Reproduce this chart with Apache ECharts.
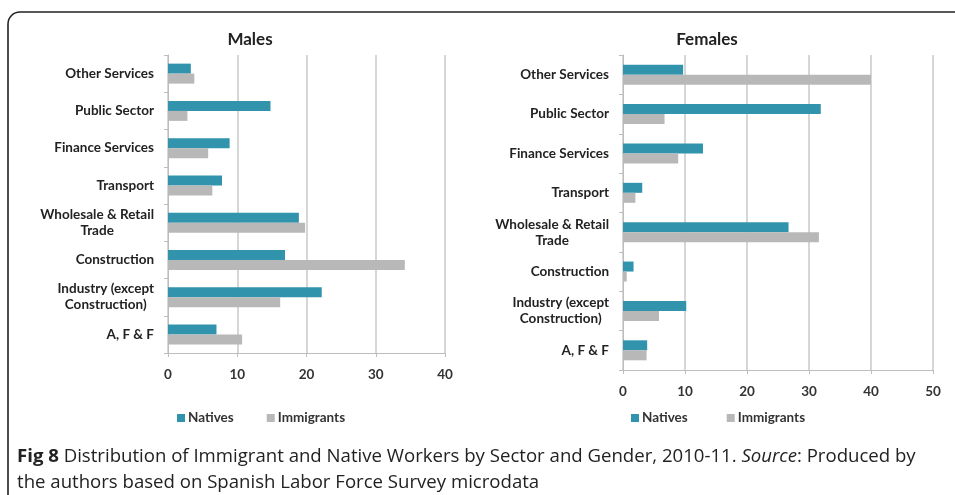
<!DOCTYPE html>
<html>
<head>
<meta charset="utf-8">
<script src="https://cdn.jsdelivr.net/npm/echarts@6/dist/echarts.min.js"></script>
<style>
html,body{margin:0;padding:0;background:#fff;}
#c{width:955px;height:495px;}
</style>
</head>
<body>
<div id="c"></div>
<script>
// Sectors, top to bottom
const categories = ['Other Services', 'Public Sector', 'Finance Services', 'Transport',
  'Wholesale & Retail\nTrade', 'Construction', 'Industry (except\nConstruction)', 'A, F & F'];
const seriesNames = ['Natives', 'Immigrants'];
const malesNatives    = [3.3, 14.8, 8.9, 7.8, 18.9, 16.9, 22.2, 7.0];
const malesImmigrants = [3.8, 2.8, 5.8, 6.4, 19.8, 34.2, 16.2, 10.7];
const femalesNatives    = [9.7, 31.9, 12.9, 3.1, 26.7, 1.7, 10.2, 3.9];
const femalesImmigrants = [40.0, 6.7, 8.9, 2.0, 31.6, 0.6, 5.8, 3.8];
const malesTicks = [0, 10, 20, 30, 40];
const femalesTicks = [0, 10, 20, 30, 40, 50];
const chartTitles = ['Males', 'Females'];
const captionLine1 = ['Fig 8', ' Distribution of Immigrant and Native Workers by Sector and Gender, 2010-11. ', 'Source', ': Produced by'];
const captionLine2 = 'the authors based on Spanish Labor Force Survey microdata';

const TEAL = '#3293ad', GREY = '#b8b8b8';
const labelFont = 'Lato, "Open Sans", sans-serif';
const capFont = '"Open Sans", sans-serif';

function catLabelFormatter(v) {
  return v.split('\n').map(s => '{a|' + s + '}').join('\n');
}
function catAxis(gi) {
  return {
    type: 'category', gridIndex: gi, data: categories, inverse: true,
    axisLine: {show: true, lineStyle: {color: '#bdbdbd', width: 1}},
    axisTick: {show: true, length: 4, lineStyle: {color: '#bdbdbd'}},
    axisLabel: {
      margin: 14, color: '#222', fontFamily: labelFont, fontSize: 13.5, fontWeight: 'bold',
      formatter: catLabelFormatter,
      rich: {a: {align: 'center', color: '#222', fontFamily: labelFont, fontSize: 13.5, fontWeight: 'bold', lineHeight: 16}}
    }
  };
}
function valAxis(gi, ticks) {
  return {
    type: 'value', gridIndex: gi, min: ticks[0], max: ticks[ticks.length - 1], interval: 10,
    axisLine: {show: true, lineStyle: {color: '#bdbdbd', width: 1}},
    axisTick: {show: true, length: 4, lineStyle: {color: '#bdbdbd'}},
    splitLine: {show: true, lineStyle: {color: '#c8c8c8', width: 1.5}},
    axisLabel: {margin: 15, color: '#333', fontFamily: labelFont, fontSize: 13.5, fontWeight: 'bold'}
  };
}
function bar(name, data, gi, color) {
  return {
    type: 'bar', name: name, data: data, xAxisIndex: gi, yAxisIndex: gi,
    barWidth: 10, barGap: '0%', itemStyle: {color: color}, silent: true
  };
}
function legend(left, gap) {
  return {data: seriesNames, left: left, top: 411, padding: 0, itemWidth: 8, itemHeight: 8, itemGap: gap, icon: 'rect',
    textStyle: {fontFamily: labelFont, fontSize: 13.5, fontWeight: 'bold', color: '#333', padding: [0, 0, 0, -2]}};
}

const chart = echarts.init(document.getElementById('c'), null, {renderer: 'canvas'});
chart.setOption({
  animation: false,
  backgroundColor: '#fff',
  title: [
    {text: chartTitles[0], left: 245, top: 26, textAlign: 'center',
     textStyle: {fontFamily: labelFont, fontSize: 17, fontWeight: 'bold', color: '#222'}},
    {text: chartTitles[1], left: 702, top: 26, textAlign: 'center',
     textStyle: {fontFamily: labelFont, fontSize: 17, fontWeight: 'bold', color: '#222'}}
  ],
  grid: [
    {left: 168, top: 55, width: 277, height: 298},
    {left: 623, top: 55, width: 310, height: 315}
  ],
  xAxis: [valAxis(0, malesTicks), valAxis(1, femalesTicks)],
  yAxis: [catAxis(0), catAxis(1)],
  legend: [legend(177, 33), legend(631, 39)],
  series: [
    bar(seriesNames[0], malesNatives, 0, TEAL),
    bar(seriesNames[1], malesImmigrants, 0, GREY),
    bar(seriesNames[0], femalesNatives, 1, TEAL),
    bar(seriesNames[1], femalesImmigrants, 1, GREY)
  ],
  graphic: [
    {type: 'rect', silent: true, z: 100,
     shape: {x: 8, y: 12, width: 1000, height: 520, r: 12},
     style: {fill: null, stroke: '#222', lineWidth: 1.6}},
    {type: 'text', left: 17, top: 447, silent: true,
     style: {
       text: '{b|' + captionLine1[0] + '}{n|' + captionLine1[1] + '}{i|' + captionLine1[2] + '}{n|' + captionLine1[3] + '}',
       rich: {
         b: {fontFamily: capFont, fontSize: 18.6, fontWeight: 'bold', fill: '#222'},
         n: {fontFamily: capFont, fontSize: 18.6, fill: '#222'},
         i: {fontFamily: capFont, fontSize: 18.6, fontStyle: 'italic', fill: '#222'}
       }
     }},
    {type: 'text', left: 17, top: 473, silent: true,
     style: {text: captionLine2, font: '18.6px "Open Sans", sans-serif', fill: '#222'}}
  ]
});
</script>
</body>
</html>
